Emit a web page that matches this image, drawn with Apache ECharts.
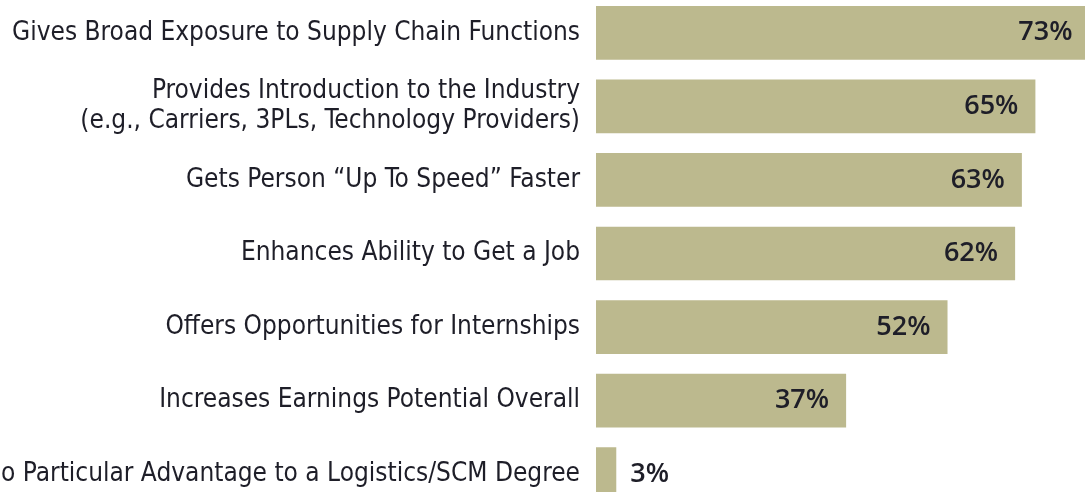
<!DOCTYPE html>
<html>
<head>
<meta charset="utf-8">
<title>Advantages of a Logistics/SCM Degree</title>
<script src="https://cdn.jsdelivr.net/npm/echarts@6/dist/echarts.min.js"></script>
<style>
  html, body { margin: 0; padding: 0; background: #fff; }
  #chart { width: 1085px; height: 492px; }
</style>
</head>
<body>
<div id="chart"></div>
<script>
  // categories, top to bottom
  const categories = [
    'Gives Broad Exposure to Supply Chain Functions',
    'Provides Introduction to the Industry\n(e.g., Carriers, 3PLs, Technology Providers)',
    'Gets Person \u201CUp To Speed\u201D Faster',
    'Enhances Ability to Get a Job',
    'Offers Opportunities for Internships',
    'Increases Earnings Potential Overall',
    'No Particular Advantage to a Logistics/SCM Degree'
  ]
  const percents = [73, 65, 63, 62, 52, 37, 3]

  const barColor = '#bcb98e'
  const textColor = '#1e1e28'

  const chart = echarts.init(document.getElementById('chart'))

  // short bars get their label outside
  const barData = percents.map(v => v < 10
    ? { value: v, label: { position: 'right', distance: 14 } }
    : v)

  chart.setOption({
    animation: false,
    grid: {
      left: 596,
      top: -4,
      width: 676,
      height: 515,
      containLabel: false,
      outerBoundsMode: 'none'
    },
    xAxis: {
      type: 'value',
      min: 0,
      max: 100,
      show: false,
      splitLine: { show: false }
    },
    yAxis: {
      type: 'category',
      inverse: true,
      data: categories,
      axisLine: { show: false },
      axisTick: { show: false },
      axisLabel: {
        margin: 16,
        color: textColor,
        fontFamily: '"Liberation Sans Narrow", "DejaVu Sans Condensed", Roboto, sans-serif',
        fontSize: 26,
        lineHeight: 30,
        align: 'right'
      }
    },
    series: [{
      type: 'bar',
      data: barData,
      barCategoryGap: '27%',
      itemStyle: { color: barColor },
      label: {
        show: true,
        position: 'insideRight',
        distance: 17,
        formatter: '{c}%',
        color: textColor,
        fontFamily: '"Open Sans", "Noto Sans", sans-serif',
        fontWeight: 600,
        fontSize: 27
      }
    }]
  })
</script>
</body>
</html>
